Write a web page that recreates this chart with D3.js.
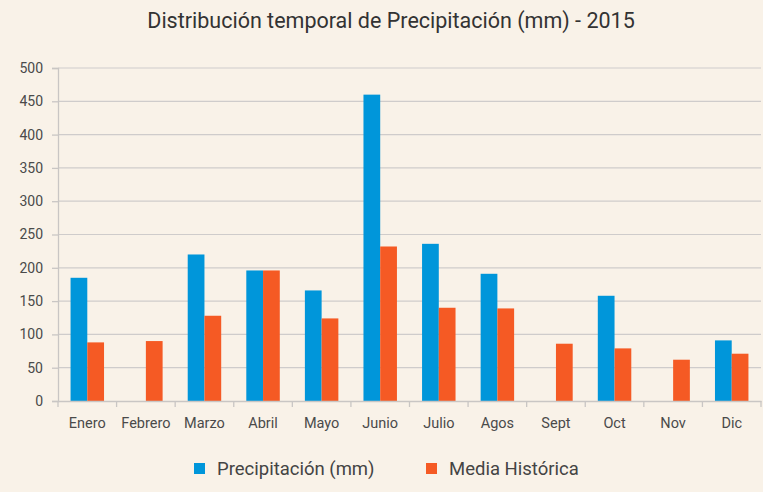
<!DOCTYPE html>
<html>
<head>
<meta charset="utf-8">
<script src="https://cdn.jsdelivr.net/npm/d3@7"></script>
<style>
  body { margin: 0; background: #f9f2e8; }
  svg { display: block; font-family: Roboto, "Liberation Sans", sans-serif; }
</style>
</head>
<body>
<div id="chart"></div>
<script>
// datos
var meses = ["Enero","Febrero","Marzo","Abril","Mayo","Junio","Julio","Agos","Sept","Oct","Nov","Dic"];
var precipitacion = [185, null, 220, 196, 166, 460, 236, 191, null, 158, null, 91];
var mediaHistorica = [88, 90, 128, 196, 124, 232, 140, 139, 86, 79, 62, 71];
var ticksY = [0, 50, 100, 150, 200, 250, 300, 350, 400, 450, 500];
var series = ["Precipitación (mm)", "Media Histórica"];
var colores = ["#0096da", "#f55a24"];

var width = 763, height = 492;
var margin = {top: 68, right: 2, bottom: 91, left: 58};

var svg = d3.select("#chart").append("svg")
  .attr("width", width).attr("height", height);

svg.append("rect").attr("width", width).attr("height", height).attr("fill", "#f9f2e8");

var x = d3.scaleBand().domain(meses).range([margin.left, width - margin.right]);
var x1 = d3.scaleBand().domain(series).range([0, x.bandwidth()]).paddingOuter(0.75).paddingInner(0);
var y = d3.scaleLinear().domain([0, 500]).range([height - margin.bottom, margin.top]);

// titulo
svg.append("text").attr("x", 391).attr("y", 28).attr("text-anchor", "middle")
  .attr("font-size", 21.5).attr("fill", "#333")
  .text("Distribución temporal de Precipitación (mm) - 2015");

// grilla
svg.append("g").selectAll("line").data(ticksY.slice(1)).join("line")
  .attr("x1", margin.left).attr("x2", width - margin.right)
  .attr("y1", d => y(d)).attr("y2", d => y(d))
  .attr("stroke", "#cfcccb").attr("stroke-width", 1.2);

// eje y
var yAxis = svg.append("g").attr("transform", "translate(" + margin.left + ",0)")
  .call(d3.axisLeft(y).tickValues(ticksY).tickSize(6).tickPadding(9));
yAxis.select(".domain").attr("stroke", "#c9c6c4").attr("stroke-width", 1.3);
yAxis.selectAll(".tick line").attr("stroke", "#c9c6c4").attr("stroke-width", 1.3);
yAxis.selectAll(".tick text").attr("font-size", 14).attr("fill", "#4a4a4a").attr("font-family", "Roboto, sans-serif");

// barras
var datos = meses.map((m, i) => ({mes: m, valores: [precipitacion[i], mediaHistorica[i]]}));
var grupos = svg.append("g").selectAll("g").data(datos).join("g")
  .attr("transform", d => "translate(" + x(d.mes) + ",0)");
grupos.selectAll("rect").data(d => d.valores.map((v, j) => ({serie: series[j], v: v, j: j})).filter(d => d.v != null))
  .join("rect")
  .attr("x", d => x1(d.serie)).attr("width", x1.bandwidth())
  .attr("y", d => y(d.v)).attr("height", d => y(0) - y(d.v))
  .attr("fill", d => colores[d.j]);

// eje x
var xAxis = svg.append("g").attr("transform", "translate(0," + y(0) + ")")
  .call(d3.axisBottom(x).tickSize(0).tickPadding(17));
xAxis.select(".domain").attr("stroke", "#c9c6c4").attr("stroke-width", 1.3);
xAxis.selectAll(".tick text").attr("font-size", 14.5).attr("fill", "#4a4a4a").attr("font-family", "Roboto, sans-serif");
var bordes = meses.map(m => x(m)).concat([x(meses[meses.length - 1]) + x.bandwidth()]);
svg.append("g").selectAll("line").data(bordes).join("line")
  .attr("x1", d => d).attr("x2", d => d)
  .attr("y1", y(0)).attr("y2", y(0) + 6)
  .attr("stroke", "#c9c6c4").attr("stroke-width", 1.3);

// leyenda
var leyX = [194, 426];
var ley = svg.append("g").selectAll("g").data(series).join("g")
  .attr("transform", (d, i) => "translate(" + leyX[i] + ",469)");
ley.append("rect").attr("x", 0).attr("y", -6).attr("width", 11).attr("height", 11)
  .attr("fill", (d, i) => colores[i]);
ley.append("text").attr("x", 23).attr("y", 6).attr("font-size", 18.5).attr("fill", "#444")
  .text(d => d);
</script>
</body>
</html>
